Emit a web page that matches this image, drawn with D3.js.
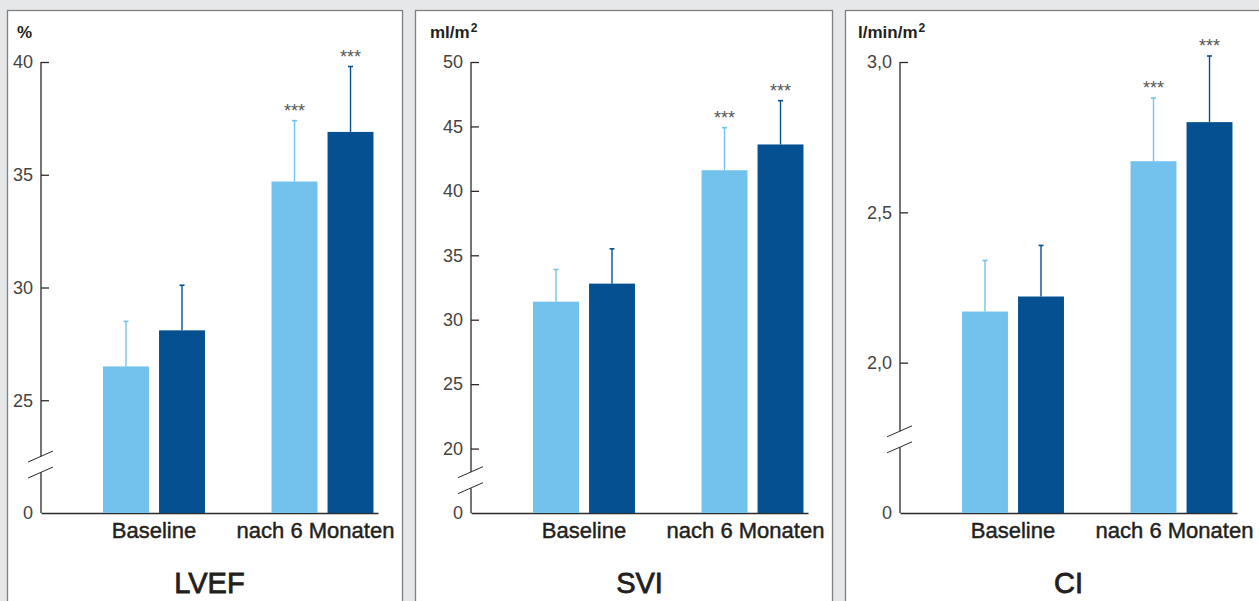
<!DOCTYPE html>
<html>
<head>
<meta charset="utf-8">
<script src="https://cdn.jsdelivr.net/npm/d3@7"></script>
<style>
  html, body { margin: 0; padding: 0; background: #e6e7e8; }
  svg { display: block; font-family: "Liberation Sans", Arial, Helvetica, sans-serif; }
</style>
</head>
<body>
<svg id="chart" width="1259" height="601"></svg>
<script>
// categories and series
const categories = ["Baseline", "nach 6 Monaten"];
const groups = ["hell", "dunkel"];
const panelTitles = ["LVEF", "SVI", "CI"];
const panelUnits = [["%", ""], ["ml/m", "2"], ["l/min/m", "2"]];

// means per category: [hell, dunkel]
const lvefMeans = [[26.5, 28.1], [34.7, 36.9]];
const lvefSD = [[2.0, 2.0], [2.7, 2.9]];
const sviMeans = [[31.4, 32.8], [41.6, 43.6]];
const sviSD = [[2.5, 2.7], [3.3, 3.4]];
const ciMeans = [[2.17, 2.22], [2.67, 2.80]];
const ciSD = [[0.17, 0.17], [0.21, 0.22]];

// significance marks per category
const sigMarks = [["", ""], ["***", "***"]];

// axis ticks, axis floor (shown as "0") and axis break
const lvefTicks = [25, 30, 35, 40];
const sviTicks = [20, 25, 30, 35, 40, 45, 50];
const ciTicks = [2.0, 2.5, 3.0];
const axisFloors = [20, 15, 1.5];
const axisBreaks = [22.15, 17.55, 1.745];

const colors = { hell: "#72c2ed", dunkel: "#045090" };
const deFormat = d3.formatLocale({ decimal: ",", thousands: ".", grouping: [3], currency: ["", " €"] }).format(".1f");

const panels = [
  { title: panelTitles[0], unit: panelUnits[0], means: lvefMeans, sd: lvefSD, ticks: lvefTicks,
    floor: axisFloors[0], brk: axisBreaks[0], fmt: d3.format("d"),
    frameX: 7, frameW: 395, axisX: 41, unitDx: -24 },
  { title: panelTitles[1], unit: panelUnits[1], means: sviMeans, sd: sviSD, ticks: sviTicks,
    floor: axisFloors[1], brk: axisBreaks[1], fmt: d3.format("d"),
    frameX: 415, frameW: 417, axisX: 471, unitDx: -41 },
  { title: panelTitles[2], unit: panelUnits[2], means: ciMeans, sd: ciSD, ticks: ciTicks,
    floor: axisFloors[2], brk: axisBreaks[2], fmt: deFormat,
    frameX: 845, frameW: 425, axisX: 900, unitDx: -42 },
];

const plotTop = 62;
const plotBottom = 513;
const plotW = 337;
const ink = "#2b2b2b";
const textInk = "#231f20";

const svg = d3.select("#chart");

svg.append("rect")
  .attr("width", 1259)
  .attr("height", 601)
  .attr("fill", "#e6e7e8");

panels.forEach(p => drawPanel(p));

function drawPanel(p) {
  svg.append("rect")
    .attr("x", p.frameX + 0.5)
    .attr("y", 10.5)
    .attr("width", p.frameW)
    .attr("height", 640)
    .attr("fill", "#fff")
    .attr("stroke", "#7f8184")
    .attr("stroke-width", 1.3);

  const g = svg.append("g").attr("transform", `translate(${p.axisX},0)`);

  const y = d3.scaleLinear()
    .domain([p.floor, d3.max(p.ticks)])
    .range([plotBottom, plotTop]);

  const x0 = d3.scaleBand()
    .domain(categories)
    .range([0, plotW])
    .paddingInner(0.395)
    .paddingOuter(0.1975)
    .align(0.932);

  const x1 = d3.scaleBand()
    .domain(groups)
    .range([0, x0.bandwidth()])
    .paddingInner(0.18);

  // y axis
  const yAxis = d3.axisLeft(y)
    .tickValues([p.floor].concat(p.ticks))
    .tickSize(-8)
    .tickPadding(8)
    .tickFormat(d => d === p.floor ? "0" : p.fmt(d));

  const yg = g.append("g").call(yAxis);
  yg.select(".domain").remove();
  yg.selectAll(".tick line")
    .attr("stroke", ink)
    .attr("stroke-width", 1.3)
    .filter(d => d === p.floor)
    .remove();
  yg.selectAll(".tick text")
    .attr("font-size", 18)
    .attr("fill", "#444")
    .attr("font-family", "\"Liberation Sans\", Arial, sans-serif");

  // axis line with break
  const yb = y(p.brk);
  g.append("path")
    .attr("d", `M0,${y.range()[1]}V${yb - 8}M0,${yb + 8}V${plotBottom}`)
    .attr("fill", "none")
    .attr("stroke", ink)
    .attr("stroke-width", 1.3);

  [-8, 8].forEach(off => {
    g.append("line")
      .attr("x1", -13).attr("y1", yb + off + 5.5)
      .attr("x2", 12).attr("y2", yb + off - 5.5)
      .attr("stroke", ink)
      .attr("stroke-width", 1);
  });

  // x axis
  const xg = g.append("g")
    .attr("transform", `translate(0,${plotBottom})`)
    .call(d3.axisBottom(x0).tickSize(0).tickSizeOuter(0).tickPadding(9));
  xg.select(".domain")
    .attr("stroke", ink)
    .attr("stroke-width", 1.3);
  xg.selectAll(".tick text")
    .attr("font-size", 22)
    .attr("fill", textInk)
    .attr("stroke", textInk)
    .attr("stroke-width", 0.45)
    .attr("dx", (d, i) => i === 1 ? -7 : 0)
    .attr("font-family", "\"Liberation Sans\", Arial, sans-serif");

  // bars
  categories.forEach((c, ci) => {
    const cg = g.append("g").attr("transform", `translate(${x0(c)},0)`);
    groups.forEach((s, si) => {
      const v = p.means[ci][si];
      const e = v + p.sd[ci][si];
      const bx = x1(s);
      const cx = bx + x1.bandwidth() / 2;

      cg.append("line")
        .attr("x1", cx).attr("x2", cx)
        .attr("y1", y(v)).attr("y2", y(e))
        .attr("stroke", colors[s])
        .attr("stroke-width", 1.4);
      cg.append("line")
        .attr("x1", cx - 2.5).attr("x2", cx + 2.5)
        .attr("y1", y(e)).attr("y2", y(e))
        .attr("stroke", colors[s])
        .attr("stroke-width", 1.6);

      cg.append("rect")
        .attr("x", bx)
        .attr("y", y(v))
        .attr("width", x1.bandwidth())
        .attr("height", plotBottom - y(v))
        .attr("fill", colors[s]);

      if (sigMarks[ci][si]) {
        cg.append("text")
          .attr("x", cx)
          .attr("y", y(e) - 4)
          .attr("text-anchor", "middle")
          .attr("font-size", 18)
          .attr("fill", "#555")
          .text(sigMarks[ci][si]);
      }
    });
  });

  // unit label
  const ut = g.append("text")
    .attr("x", p.unitDx)
    .attr("y", 38)
    .attr("font-size", 17)
    .attr("font-weight", "bold")
    .attr("fill", textInk)
    .text(p.unit[0]);
  if (p.unit[1]) {
    ut.append("tspan")
      .attr("dx", 1)
      .attr("dy", -6)
      .attr("font-size", 12)
      .text(p.unit[1]);
  }

  // panel title
  g.append("text")
    .attr("x", plotW / 2)
    .attr("y", 593)
    .attr("text-anchor", "middle")
    .attr("font-size", 29)
    .attr("fill", textInk)
    .attr("stroke", textInk)
    .attr("stroke-width", 0.8)
    .text(p.title);
}
</script>
</body>
</html>
